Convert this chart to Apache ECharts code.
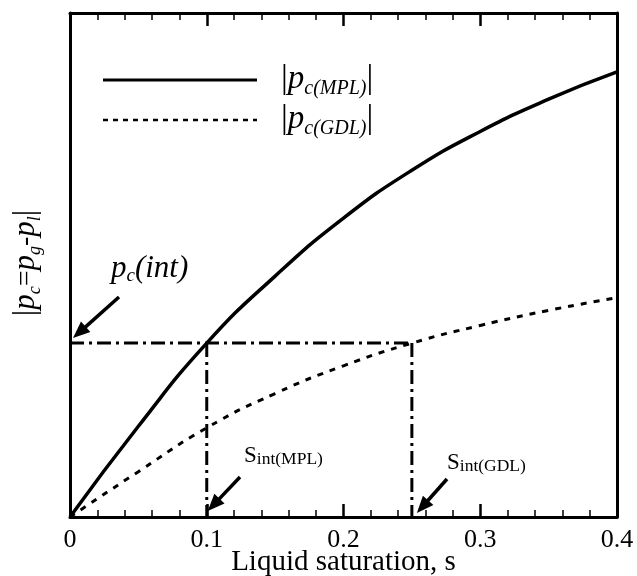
<!DOCTYPE html>
<html>
<head>
<meta charset="utf-8">
<script src="https://cdn.jsdelivr.net/npm/echarts@6/dist/echarts.min.js"></script>
<style>
  html, body { margin: 0; padding: 0; background: #ffffff; }
  #chart { width: 637px; height: 576px; }
</style>
</head>
<body>
<div id="chart"></div>
<script>
// Liquid saturation s and capillary pressure magnitude (arbitrary units)
const saturation = [0, 0.05, 0.1, 0.15, 0.2, 0.25, 0.3, 0.35, 0.4];
const pcMPL = [0, 0.18, 0.345, 0.478, 0.593, 0.688, 0.765, 0.829, 0.883];
const pcGDL = [0, 0.09, 0.177, 0.245, 0.30, 0.345, 0.38, 0.41, 0.435];

// Interface pressure and the matching saturations on each side
const pcInt = 0.345;
const sIntMPL = 0.1;
const sIntGDL = 0.25;

const xTickLabels = ['0', '0.1', '0.2', '0.3', '0.4'];
const xTitle = 'Liquid saturation, s';

const SERIF = "'Liberation Serif', 'DejaVu Serif', serif";
const INK = '#000000';

const pairs = (xs, ys) => xs.map((x, i) => [x, ys[i]]);

const chart = echarts.init(document.getElementById('chart'), null, { renderer: 'canvas' });

const axisCommon = {
  type: 'value',
  min: 0,
  max: 0.4,
  interval: 0.1,
  splitLine: { show: false },
  axisLine: { show: true, onZero: false, lineStyle: { color: INK, width: 3 } },
  axisTick: { show: true, inside: true, length: 13, lineStyle: { color: INK, width: 2.5 } },
  minorTick: { show: true, splitNumber: 5, length: 7, lineStyle: { color: INK, width: 1.5 } },
  minorSplitLine: { show: false }
};

const dashDot = [14, 5, 3, 5];

const option = {
  backgroundColor: '#ffffff',
  animation: false,
  grid: { left: 70, right: 20, top: 13, bottom: 59, containLabel: false, outerBoundsMode: 'none' },
  xAxis: [
    Object.assign({}, axisCommon, {
      position: 'bottom',
      // the title itself is placed below as a graphic text
      name: ' ',
      nameLocation: 'middle',
      nameGap: 31,
      nameTextStyle: { fontFamily: SERIF, fontSize: 29, color: INK },
      axisLabel: {
        show: true,
        margin: 10,
        fontFamily: SERIF,
        fontSize: 26,
        color: INK,
        formatter: (v) => xTickLabels[Math.round(v * 10)] ?? ''
      }
    }),
    Object.assign({}, axisCommon, {
      position: 'top',
      axisLabel: { show: false }
    })
  ],
  yAxis: [
    {
      type: 'value', min: 0, max: 1, position: 'left',
      splitLine: { show: false },
      axisLine: { show: true, onZero: false, lineStyle: { color: INK, width: 3 } },
      axisTick: { show: false }, axisLabel: { show: false }
    },
    {
      type: 'value', min: 0, max: 1, position: 'right',
      splitLine: { show: false },
      axisLine: { show: true, onZero: false, lineStyle: { color: INK, width: 3 } },
      axisTick: { show: false }, axisLabel: { show: false }
    }
  ],
  series: [
    {
      name: 'MPL', type: 'line', data: pairs(saturation, pcMPL),
      smooth: 0.5, showSymbol: false,
      lineStyle: { color: INK, width: 3.5, type: 'solid' }, z: 5
    },
    {
      name: 'GDL', type: 'line', data: pairs(saturation, pcGDL),
      smooth: 0.5, showSymbol: false,
      lineStyle: { color: INK, width: 3, type: [6, 7] }, z: 5
    },
    {
      name: 'pc(int)', type: 'line', data: [[0, pcInt], [sIntGDL, pcInt]],
      showSymbol: false, lineStyle: { color: INK, width: 3, type: dashDot }, z: 4
    },
    {
      name: 's_int MPL', type: 'line', data: [[sIntMPL, pcInt], [sIntMPL, 0]],
      showSymbol: false, lineStyle: { color: INK, width: 3, type: dashDot }, z: 4
    },
    {
      name: 's_int GDL', type: 'line', data: [[sIntGDL, pcInt], [sIntGDL, 0]],
      showSymbol: false, lineStyle: { color: INK, width: 3, type: dashDot }, z: 4
    }
  ]
};

chart.setOption(option);

// Arrow from a tail point to a tip point, filled head at the tip
function arrow(tail, tip) {
  const dx = tip[0] - tail[0], dy = tip[1] - tail[1];
  const len = Math.hypot(dx, dy);
  const ux = dx / len, uy = dy / len;
  const headLen = 17, headHalf = 7;
  const bx = tip[0] - ux * headLen, by = tip[1] - uy * headLen;
  return [
    {
      type: 'line', silent: true, z: 20,
      shape: { x1: tail[0], y1: tail[1], x2: bx + ux * 2, y2: by + uy * 2 },
      style: { stroke: INK, lineWidth: 3.5 }
    },
    {
      type: 'polygon', silent: true, z: 20,
      shape: { points: [tip, [bx - uy * headHalf, by + ux * headHalf], [bx + uy * headHalf, by - ux * headHalf]] },
      style: { fill: INK }
    }
  ];
}

const at = (x, y) => chart.convertToPixel({ xAxisIndex: 0, yAxisIndex: 0 }, [x, y]);
const pIntPx = at(0, pcInt);
const sMplPx = at(sIntMPL, 0);
const sGdlPx = at(sIntGDL, 0);
const xMid = (at(0, 0)[0] + at(0.4, 0)[0]) / 2;

const italicRich = {
  bar: { fontFamily: SERIF, fontSize: 34, color: INK, lineHeight: 40, verticalAlign: 'middle' },
  p: { fontFamily: SERIF, fontStyle: 'italic', fontSize: 33, color: INK, lineHeight: 40, verticalAlign: 'middle' },
  sub: { fontFamily: SERIF, fontStyle: 'italic', fontSize: 20, color: INK, lineHeight: 22, verticalAlign: 'bottom' }
};

const graphics = [
  // x axis title
  {
    type: 'text', silent: true, x: xMid, y: 562,
    style: { text: xTitle, fontFamily: SERIF, fontSize: 29, fill: INK, align: 'center', verticalAlign: 'middle' }
  },
  // legend samples
  { type: 'line', silent: true, shape: { x1: 103, y1: 80, x2: 257, y2: 80 }, style: { stroke: INK, lineWidth: 3 } },
  { type: 'line', silent: true, shape: { x1: 103, y1: 120, x2: 257, y2: 120 }, style: { stroke: INK, lineWidth: 2.5, lineDash: [5, 5] } },
  {
    type: 'text', silent: true, left: 281, top: 62,
    style: { text: '{bar||}{p|p}{sub|c(MPL)}{bar||}', rich: italicRich }
  },
  {
    type: 'text', silent: true, left: 281, top: 102,
    style: { text: '{bar||}{p|p}{sub|c(GDL)}{bar||}', rich: italicRich }
  },
  // y axis title
  {
    type: 'text', silent: true, x: 26, y: 263, rotation: Math.PI / 2,
    style: {
      text: '{bar||}{p|p}{sub|c}{op|=}{p|p}{sub|g}{op|-}{p|p}{sub|l}{bar||}',
      align: 'center', verticalAlign: 'middle',
      rich: {
        bar: { fontFamily: SERIF, fontSize: 32, color: INK, lineHeight: 36 },
        p: { fontFamily: SERIF, fontStyle: 'italic', fontSize: 31, color: INK, lineHeight: 36 },
        op: { fontFamily: SERIF, fontSize: 28, color: INK, lineHeight: 36 },
        sub: { fontFamily: SERIF, fontStyle: 'italic', fontSize: 18, color: INK, lineHeight: 20, verticalAlign: 'bottom' }
      }
    }
  },
  // interface pressure label
  {
    type: 'text', silent: true, left: 111, top: 253,
    style: {
      text: '{p|p}{sub|c}{p|(int)}',
      rich: {
        p: { fontFamily: SERIF, fontStyle: 'italic', fontSize: 31, color: INK, lineHeight: 34 },
        sub: { fontFamily: SERIF, fontStyle: 'italic', fontSize: 19, color: INK, lineHeight: 18, verticalAlign: 'bottom' }
      }
    }
  },
  // interface saturation labels
  {
    type: 'text', silent: true, left: 244, top: 444,
    style: {
      text: '{s|S}{sub|int(MPL)}',
      rich: {
        s: { fontFamily: SERIF, fontSize: 23, color: INK, lineHeight: 26 },
        sub: { fontFamily: SERIF, fontSize: 17.5, color: INK, lineHeight: 16, verticalAlign: 'bottom' }
      }
    }
  },
  {
    type: 'text', silent: true, left: 447, top: 451,
    style: {
      text: '{s|S}{sub|int(GDL)}',
      rich: {
        s: { fontFamily: SERIF, fontSize: 23, color: INK, lineHeight: 26 },
        sub: { fontFamily: SERIF, fontSize: 17.5, color: INK, lineHeight: 16, verticalAlign: 'bottom' }
      }
    }
  }
]
  .concat(arrow([119, 297], [pIntPx[0] + 3, pIntPx[1] - 5]))
  .concat(arrow([240, 477], [sMplPx[0] + 1, sMplPx[1] - 6]))
  .concat(arrow([447, 479], [sGdlPx[0] + 5, sGdlPx[1] - 4]));

chart.setOption({ graphic: graphics });
</script>
</body>
</html>
